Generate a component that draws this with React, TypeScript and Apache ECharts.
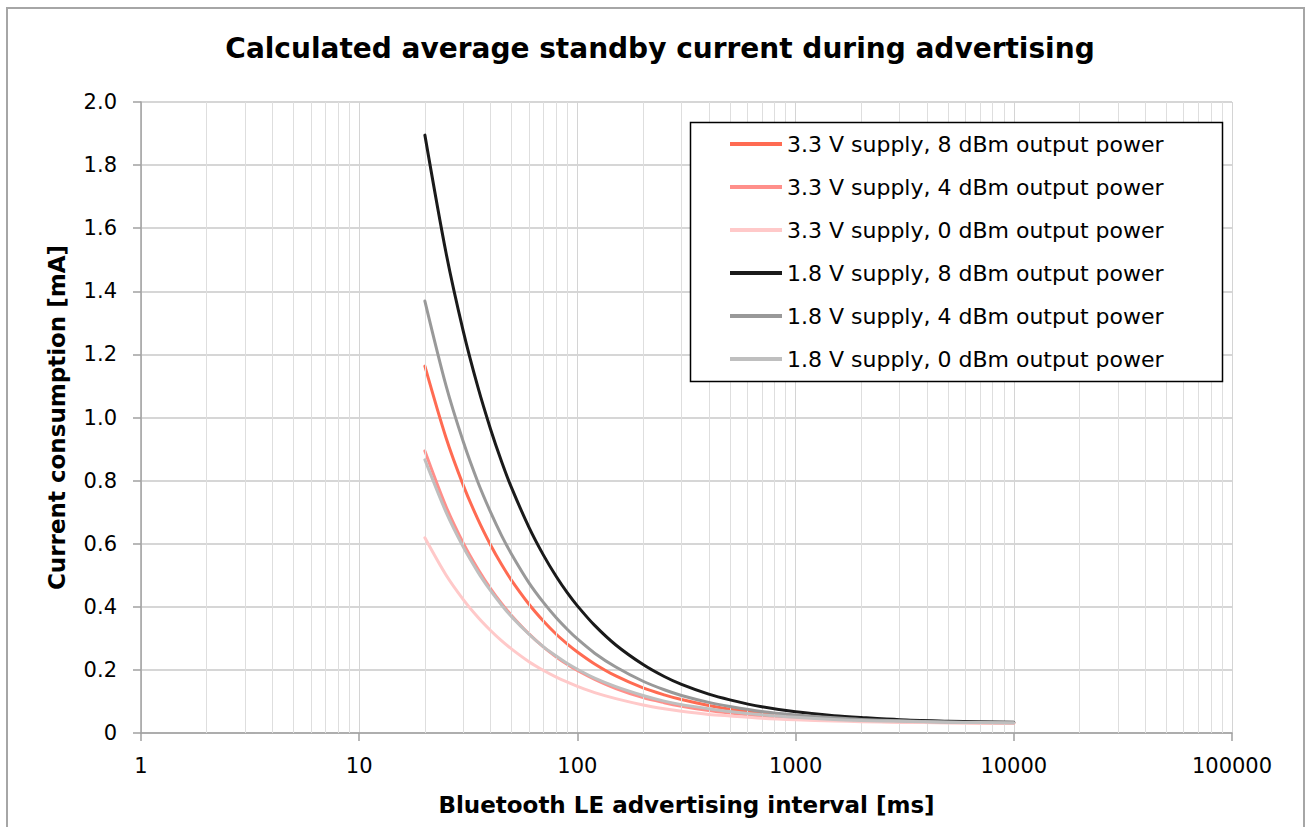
import React, { useEffect, useRef } from "react";
import * as echarts from "echarts";

const intervals = [20, 25, 30, 35, 40, 45, 50, 60, 70, 80, 90, 100, 120, 150, 200, 250, 300, 400, 500, 700, 1000, 1500, 2000, 3000, 5000, 7000, 10000];

const s33_8 = [1.163, 0.936, 0.785, 0.677, 0.596, 0.533, 0.483, 0.408, 0.354, 0.313, 0.282, 0.257, 0.219, 0.181, 0.143, 0.121, 0.106, 0.087, 0.075, 0.062, 0.053, 0.045, 0.041, 0.0375, 0.035, 0.033, 0.032];
const s33_4 = [0.894, 0.718, 0.602, 0.520, 0.458, 0.410, 0.372, 0.314, 0.272, 0.241, 0.217, 0.198, 0.170, 0.141, 0.112, 0.096, 0.085, 0.071, 0.063, 0.053, 0.046, 0.041, 0.038, 0.035, 0.033, 0.032, 0.031];
const s33_0 = [0.619, 0.501, 0.423, 0.367, 0.325, 0.292, 0.266, 0.226, 0.198, 0.177, 0.161, 0.148, 0.128, 0.109, 0.089, 0.077, 0.069, 0.059, 0.054, 0.047, 0.042, 0.038, 0.036, 0.034, 0.032, 0.0317, 0.031];
const s18_8 = [1.895, 1.522, 1.273, 1.096, 0.963, 0.859, 0.776, 0.652, 0.563, 0.496, 0.444, 0.403, 0.341, 0.279, 0.217, 0.179, 0.154, 0.123, 0.105, 0.083, 0.067, 0.055, 0.049, 0.042, 0.0375, 0.0353, 0.034];
const s18_4 = [1.369, 1.101, 0.923, 0.795, 0.700, 0.625, 0.566, 0.476, 0.413, 0.365, 0.328, 0.298, 0.253, 0.209, 0.164, 0.137, 0.119, 0.097, 0.084, 0.068, 0.057, 0.048, 0.043, 0.039, 0.035, 0.034, 0.033];
const s18_0 = [0.866, 0.700, 0.589, 0.510, 0.451, 0.405, 0.368, 0.313, 0.273, 0.244, 0.220, 0.202, 0.174, 0.147, 0.119, 0.101, 0.090, 0.077, 0.068, 0.058, 0.050, 0.043, 0.040, 0.037, 0.034, 0.033, 0.032];

const seriesNames = [
  "3.3 V supply, 8 dBm output power",
  "3.3 V supply, 4 dBm output power",
  "3.3 V supply, 0 dBm output power",
  "1.8 V supply, 8 dBm output power",
  "1.8 V supply, 4 dBm output power",
  "1.8 V supply, 0 dBm output power",
];
const seriesValues = [s33_8, s33_4, s33_0, s18_8, s18_4, s18_0];
const seriesColors = ["#ff6b52", "#ff8f8a", "#ffc9c9", "#1a1a1a", "#999999", "#bfbfbf"];

const minorXLines = [
  2, 3, 4, 5, 6, 7, 8, 9,
  20, 30, 40, 50, 60, 70, 80, 90,
  200, 300, 400, 500, 600, 700, 800, 900,
  2000, 3000, 4000, 5000, 6000, 7000, 8000, 9000,
  20000, 30000, 40000, 50000, 60000, 70000, 80000, 90000,
];

const FONT = "'DejaVu Sans', Verdana, sans-serif";

export default function App() {
  const ref = useRef<HTMLDivElement>(null);
  useEffect(() => {
    if (!ref.current) return;
    const chart = echarts.init(ref.current, undefined, { renderer: "svg" });
    const series: any[] = [
      {
        name: "__grid",
        type: "line",
        data: [],
        z: 1,
        silent: true,
        markLine: {
          silent: true,
          symbol: "none",
          animation: false,
          label: { show: false },
          lineStyle: { color: "#dedede", width: 1, type: "solid" },
          data: minorXLines.map((v) => ({ xAxis: v })),
        },
      },
    ];
    seriesNames.forEach((name, i) => {
      series.push({
        name,
        type: "line",
        data: intervals.map((x, j) => [x, seriesValues[i][j]]),
        showSymbol: false,
        symbol: "none",
        smooth: 0.3,
        z: 3 + i,
        lineStyle: { color: seriesColors[i], width: 3, cap: "round", join: "round" },
        itemStyle: { color: seriesColors[i] },
      });
    });
    chart.setOption({
      animation: false,
      backgroundColor: "#ffffff",
      textStyle: { fontFamily: FONT },
      title: {
        text: "Calculated average standby current during advertising",
        left: 655,
        textAlign: "center",
        top: 29,
        textStyle: { fontFamily: FONT, fontSize: 28, fontWeight: "bold", color: "#000" },
      },
      graphic: [
        {
          type: "rect",
          z: 0,
          shape: { x: 7, y: 8, width: 1297, height: 840 },
          style: { fill: "none", stroke: "#a6a6a6", lineWidth: 2 },
          silent: true,
        },
        {
          type: "rect",
          z: 50,
          shape: { x: 690.5, y: 122.5, width: 532, height: 259 },
          style: { fill: "#ffffff", stroke: "#000000", lineWidth: 1.5 },
          silent: true,
        },
      ],
      legend: {
        z: 60,
        orient: "vertical",
        left: 730,
        top: 132,
        padding: 0,
        itemGap: 19,
        itemWidth: 52,
        itemHeight: 4,
        icon: "rect",
        data: seriesNames,
        textStyle: { fontFamily: FONT, fontSize: 22, color: "#000", lineHeight: 24 },
      },
      grid: { left: 141, top: 102, right: 74, bottom: 94, containLabel: false },
      xAxis: {
        type: "log",
        logBase: 10,
        min: 1,
        max: 100000,
        name: "Bluetooth LE advertising interval [ms]",
        nameLocation: "middle",
        nameGap: 60,
        nameTextStyle: { fontFamily: FONT, fontSize: 23, fontWeight: "bold", color: "#000" },
        axisLine: { show: true, onZero: false, lineStyle: { color: "#a0a0a0", width: 1.5 } },
        axisTick: { show: true, length: 8, lineStyle: { color: "#a0a0a0", width: 1.5 } },
        axisLabel: {
          fontFamily: FONT,
          fontSize: 21,
          color: "#000",
          margin: 22,
          formatter: (v: number) => String(Math.round(v)),
        },
        splitLine: { show: true, lineStyle: { color: "#d4d4d4", width: 1 } },
      },
      yAxis: {
        type: "value",
        min: 0,
        max: 2,
        interval: 0.2,
        name: "Current consumption [mA]",
        nameLocation: "middle",
        nameGap: 73,
        nameTextStyle: { fontFamily: FONT, fontSize: 23, fontWeight: "bold", color: "#000" },
        axisLine: { show: true, lineStyle: { color: "#a0a0a0", width: 1.5 } },
        axisTick: { show: true, length: 8, lineStyle: { color: "#a0a0a0", width: 1.5 } },
        axisLabel: {
          fontFamily: FONT,
          fontSize: 21,
          color: "#000",
          margin: 24,
          formatter: (v: number) => (Math.abs(v) < 1e-9 ? "0" : v.toFixed(1)),
        },
        splitLine: { show: true, lineStyle: { color: "#c8c8c8", width: 1.5 } },
      },
      series,
    });
    return () => chart.dispose();
  }, []);
  return (
    <div
      ref={ref}
      style={{ position: "fixed", left: 0, top: 0, width: 1306, height: 827 }}
    />
  );
}
